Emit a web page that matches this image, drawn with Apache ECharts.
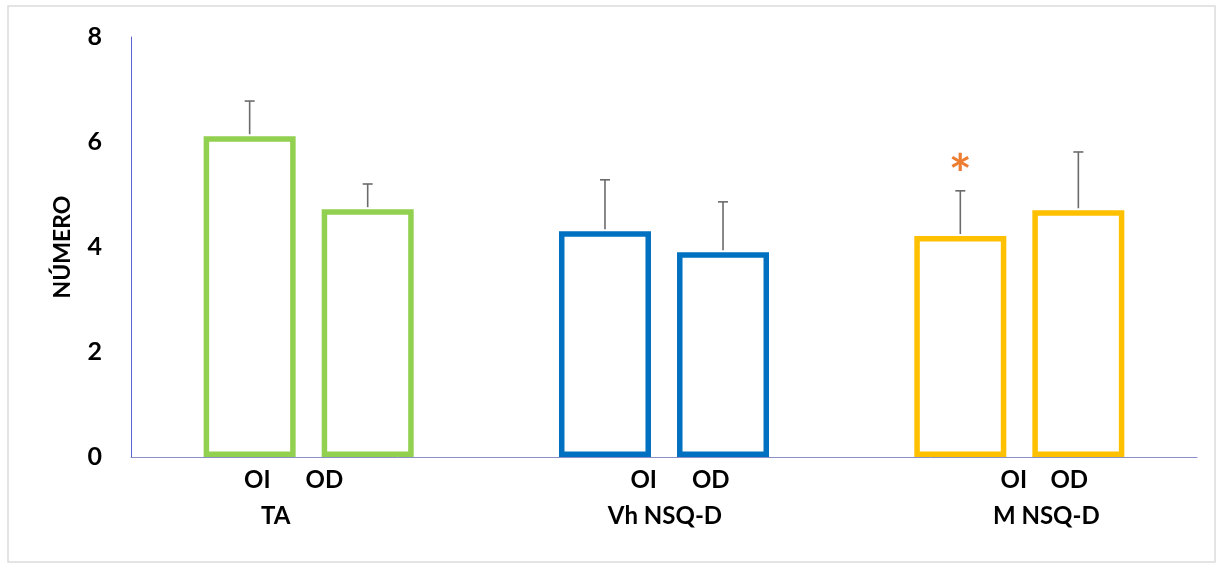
<!DOCTYPE html>
<html>
<head>
<meta charset="utf-8">
<script src="https://cdn.jsdelivr.net/npm/echarts@6/dist/echarts.min.js"></script>
<style>html,body{margin:0;padding:0;background:#fff}#c{width:1223px;height:569px}</style>
</head>
<body>
<div id="c"></div>
<script>
// ---- data ----
const groups = ['TA', 'Vh NSQ-D', 'M NSQ-D'];
const subLabels = ['OI      OD', 'OI      OD', 'OI    OD'];
const oiValues = [6.11, 4.30, 4.21];
const odValues = [4.72, 3.90, 4.70];
const oiErrors = [0.67, 0.98, 0.86];
const odErrors = [0.48, 0.96, 1.11];
const oiMarks = ['', '', '*'];
const odMarks = ['', '', ''];
const groupColors = ['#92D050', '#0070C0', '#FFC000'];
const yTicks = [0, 2, 4, 6, 8];

// ---- layout ----
const BAR_W = 92;
const BAR_GAP = 0.283;
const subShift = [-15, 16, 25];
const groupShift = [-33, 1, 27];
const FONT = 'Lato, "Open Sans", sans-serif';

function shiftPad(s) { return s < 0 ? [0, -2 * s, 0, 0] : [0, 0, 0, 2 * s]; }

const chart = echarts.init(document.getElementById('c'));

function barSeries(name, values) {
  return {
    name, type: 'bar', barWidth: BAR_W, barGap: (BAR_GAP * 100) + '%',
    data: values.map((v, i) => ({
      value: v,
      itemStyle: { color: '#ffffff', borderColor: groupColors[i], borderWidth: 5.5 }
    })),
    z: 2, silent: true
  };
}

function errSeries(values, errs, marks, idx) {
  const offset = (idx === 0 ? -1 : 1) * BAR_W * (1 + BAR_GAP) / 2;
  return {
    type: 'custom', z: 3, silent: true,
    data: values.map((v, i) => [i, v, errs[i], marks[i]]),
    renderItem: function (params, api) {
      const i = api.value(0);
      const base = api.coord([i, api.value(1)]);
      const top = api.coord([i, api.value(1) + api.value(2)]);
      const x = base[0] + offset;
      const cap = 5;
      const children = [
        { type: 'line', shape: { x1: x, y1: base[1] - 2, x2: x, y2: top[1] }, style: { stroke: '#6b6b6b', lineWidth: 1.6 } },
        { type: 'line', shape: { x1: x - cap, y1: top[1], x2: x + cap, y2: top[1] }, style: { stroke: '#6b6b6b', lineWidth: 1.6 } }
      ];
      const mk = marks[i];
      if (mk) {
        children.push({ type: 'text', style: { text: mk, x: x, y: top[1] - 15, align: 'center', verticalAlign: 'middle', fill: '#ED7D31', font: 'bold 54px ' + FONT } });
      }
      return { type: 'group', children };
    }
  };
}

chart.setOption({
  backgroundColor: '#ffffff',
  animation: false,
  graphic: [{
    type: 'rect', shape: { x: 8, y: 6, width: 1207, height: 556 },
    style: { fill: 'none', stroke: '#dcdcdc', lineWidth: 1.5 }, silent: true, z: 0
  }],
  grid: { left: 131, right: 26, top: 37, bottom: 112 },
  xAxis: [{
    type: 'category', data: groups.map((g, i) => ({
      value: g,
      textStyle: { padding: shiftPad(subShift[i]) }
    })),
    axisLine: { lineStyle: { color: '#8a8fc8', width: 1 } },
    axisTick: { show: false },
    axisLabel: {
      margin: 11, color: '#000', fontFamily: FONT, fontWeight: 'bold', fontSize: 24,
      formatter: (v, i) => subLabels[i]
    }
  }, {
    type: 'category', position: 'bottom', data: groups.map((g, i) => ({
      value: g,
      textStyle: { padding: shiftPad(groupShift[i]) }
    })),
    axisLine: { show: false }, axisTick: { show: false },
    axisLabel: { margin: 47, color: '#000', fontFamily: FONT, fontWeight: 'bold', fontSize: 24 }
  }],
  yAxis: {
    type: 'value', min: 0, max: 8, interval: 2,
    name: 'NÚMERO', nameLocation: 'middle', nameGap: 57, nameRotate: 90,
    nameTextStyle: { color: '#000', fontFamily: FONT, fontWeight: 'bold', fontSize: 23 },
    axisLine: { show: true, lineStyle: { color: '#5b63d6', width: 1 } },
    axisTick: { show: false },
    splitLine: { show: false },
    axisLabel: {
      margin: 29, color: '#000', fontFamily: FONT, fontWeight: 'bold', fontSize: 25,
      formatter: v => yTicks.includes(v) ? String(v) : ''
    }
  },
  series: [
    barSeries('OI', oiValues),
    barSeries('OD', odValues),
    errSeries(oiValues, oiErrors, oiMarks, 0),
    errSeries(odValues, odErrors, odMarks, 1)
  ]
});
</script>
</body>
</html>
